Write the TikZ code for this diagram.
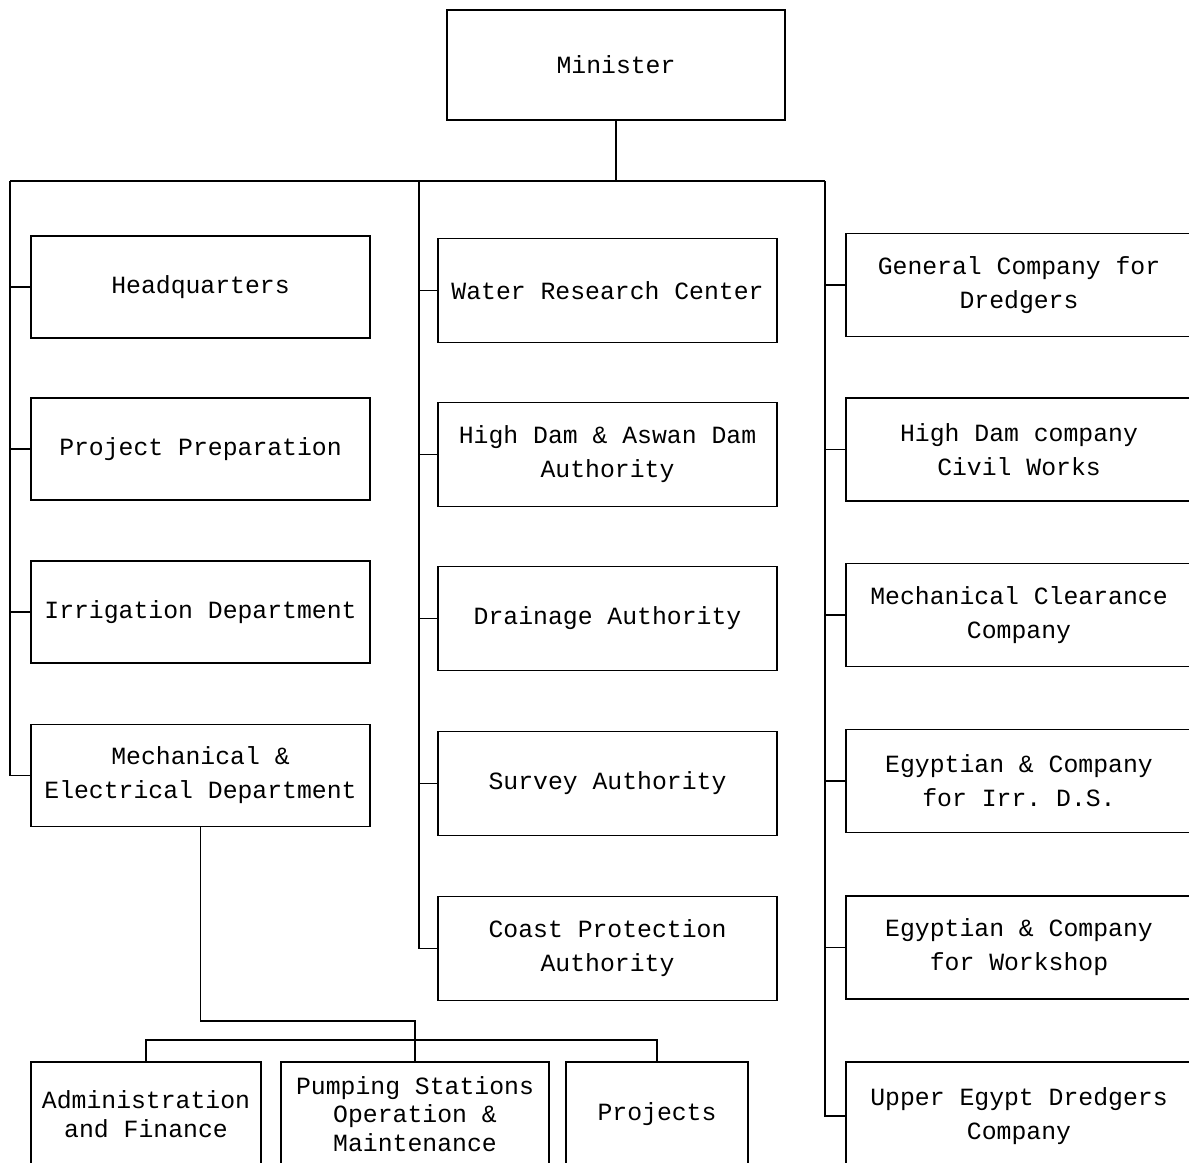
\documentclass[tikz,border=0pt]{standalone}
\usepackage{fontspec}
\setmonofont{Liberation Mono}
\usepackage{tikz}

\begin{document}
\begin{tikzpicture}[x=0.02cm,y=-0.02cm,line width=1.1pt,
  unit/.style={draw,align=center,inner sep=2pt,
    font=\ttfamily\fontsize{14.1}{19.4}\selectfont},
  leftunit/.style={unit,minimum width=6.78cm,minimum height=2.04cm},
  midunit/.style={unit,minimum width=6.78cm,minimum height=2.08cm},
  compunit/.style={unit,minimum width=6.92cm,minimum height=2.06cm},
  subunit/.style={unit,minimum height=2.08cm,
    font=\ttfamily\fontsize{14.1}{16.2}\selectfont}]
  \useasboundingbox (0,0) rectangle (1189,1162);
  \clip (0,0) rectangle (1189,1162);
  % top
  \node[unit,minimum width=6.76cm,minimum height=2.2cm] (minister) at (616,65) {Minister};
  \coordinate (lt) at (10,181);
  \coordinate (mt) at (419,181);
  \coordinate (rt) at (825,181);
  % left column
  \node[leftunit] (hq)   at (200.5,287)   {Headquarters};
  \node[leftunit] (prep) at (200.5,449)   {Project Preparation};
  \node[leftunit] (irr)  at (200.5,612)   {Irrigation Department};
  \node[leftunit] (mech) at (200.5,775.5) {Mechanical \&\\Electrical Department};
  % middle column
  \node[midunit] (wrc)    at (607.5,290.5) {Water Research Center};
  \node[midunit] (hdam)   at (607.5,454.5) {High Dam \& Aswan Dam\\Authority};
  \node[midunit] (drain)  at (607.5,618.5) {Drainage Authority};
  \node[midunit] (survey) at (607.5,783.5) {Survey Authority};
  \node[midunit] (coast)  at (607.5,948.5) {Coast Protection\\Authority};
  % right column
  \node[compunit] (gcd) at (1019,285)   {General Company for\\Dredgers};
  \node[compunit] (hdc) at (1019,449.5) {High Dam company\\Civil Works};
  \node[compunit] (mcc) at (1019,615)   {Mechanical Clearance\\Company};
  \node[compunit] (eci) at (1019,781)   {Egyptian \& Company\\for Irr. D.S.};
  \node[compunit] (ecw) at (1019,947.5) {Egyptian \& Company\\for Workshop};
  \node[compunit,minimum height=2.16cm] (ued) at (1019,1116) {Upper Egypt Dredgers\\Company};
  % bottom row
  \node[subunit,minimum width=4.6cm]  (admin) at (146,1114) {Administration\\and Finance};
  \node[subunit,minimum width=5.36cm] (pump)  at (415,1114) {Pumping Stations\\Operation \&\\Maintenance};
  \node[subunit,minimum width=3.64cm] (proj)  at (657,1114) {Projects};
  \coordinate (jn) at (415,1021);
  % connectors
  \draw (minister.south) -- (minister.south |- lt);
  \draw (lt) -- (rt);
  \draw (lt) |- (mech.west);
  \draw (mt) |- (coast.west);
  \draw (rt) |- (ued.west);
  \foreach \n in {hq,prep,irr}
    \draw (\n.west) -- (\n.west -| lt);
  \foreach \n in {wrc,hdam,drain,survey}
    \draw (\n.west) -- (\n.west -| mt);
  \foreach \n in {gcd,hdc,mcc,eci,ecw}
    \draw (\n.west) -- (\n.west -| rt);
  \draw (mech.south) |- (jn) -- (pump.north);
  \draw (admin.north) -- ++(0,-21) -| (proj.north);
\end{tikzpicture}
\end{document}
